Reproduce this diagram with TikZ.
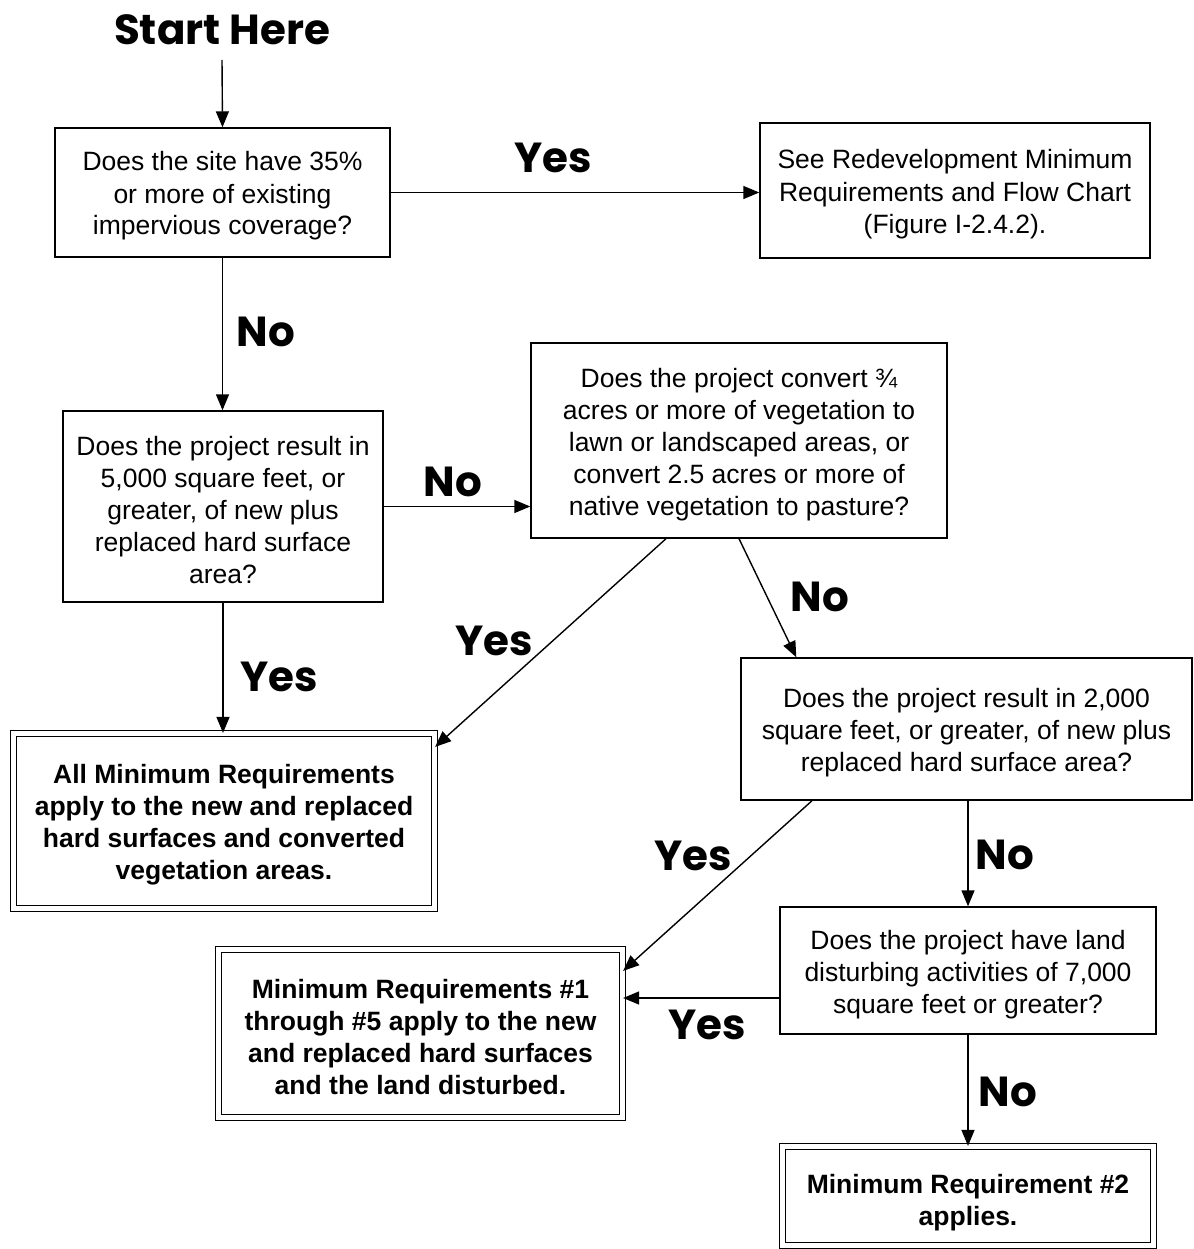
\documentclass[tikz,border=0pt]{standalone}
\usepackage{fontspec}
\setmainfont{Liberation Sans}
\newfontfamily\lblfont{Poppins}
\usetikzlibrary{arrows.meta}
\newcommand\topgap{\rule{0pt}{26.5pt}}
\tikzset{
  box/.style={draw, line width=1.4pt, align=center, inner sep=0pt,
    font=\fontsize{26.5}{32}\selectfont},
  dbox/.style={box, double, double distance=5pt, line width=1.2pt,
    font=\fontsize{26.5}{32}\selectfont\bfseries},
  arr/.style={line width=1.4pt, -{Triangle[length=16pt,width=13pt]}},
  lbl/.style={font=\fontsize{42}{44}\lblfont\bfseries, inner sep=0pt},
}
\begin{document}
\begin{tikzpicture}[x=1pt,y=-1pt]
\useasboundingbox (0,0) rectangle (1193,1249);
\node[lbl] (start) at (222,30) {Start Here};
\coordinate (startend) at (222,60);

\node[box, minimum width=335pt, minimum height=129pt] (b1) at (222.5,192.5)
  {\topgap Does the site have 35\%\\or more of existing\\impervious coverage?};
\node[box, minimum width=390pt, minimum height=135pt] (b2) at (955,190.5)
  {\topgap See Redevelopment Minimum\\Requirements and Flow Chart\\(Figure I-2.4.2).};
\node[box, minimum width=320pt, minimum height=191pt] (b3) at (223,506.5)
  {\topgap Does the project result in\\5,000 square feet, or\\greater, of new plus\\replaced hard surface\\area?};
\node[box, minimum width=416pt, minimum height=195pt] (b4) at (739,440.5)
  {\topgap Does the project convert ¾\\acres or more of vegetation to\\lawn or landscaped areas, or\\convert 2.5 acres or more of\\native vegetation to pasture?};
\node[box, minimum width=451pt, minimum height=142pt] (b5) at (966.5,729)
  {\topgap Does the project result in 2,000\\square feet, or greater, of new plus\\replaced hard surface area?};
\node[dbox, minimum width=421pt, minimum height=175pt] (b6) at (224,821)
  {\topgap All Minimum Requirements\\apply to the new and replaced\\hard surfaces and converted\\vegetation areas.};
\node[box, minimum width=376pt, minimum height=127pt] (b7) at (968,970.5)
  {\topgap Does the project have land\\disturbing activities of 7,000\\square feet or greater?};
\node[dbox, minimum width=404pt, minimum height=168pt] (b8) at (420.5,1033.5)
  {\topgap Minimum Requirements \#1\\through \#5 apply to the new\\and replaced hard surfaces\\and the land disturbed.};
\node[dbox, minimum width=371pt, minimum height=99pt] (b9) at (968,1196)
  {\rule{0pt}{32.5pt}Minimum Requirement \#2\\applies.};

\draw[arr] (startend) -- (b1.north);
\draw[arr] (b1.east) -- (b1.east -| b2.west);
\draw[arr] (b1.south) -- (b1.south |- b3.north);
\draw[arr] (b3.east) -- (b3.east -| b4.west);
\draw[arr] (b3.south) -- (b3.south |- b6.north);
\draw[arr] ([xshift=-73pt]b4.south) -- ([yshift=-14pt]b6.north east);
\draw[arr] (b4.south) -- ([xshift=56pt]b5.north west);
\draw[arr] ([xshift=-154.5pt]b5.south) -- ([yshift=-22pt]b8.north east);
\draw[arr] (b5.south -| b7.north) -- (b7.north);
\draw[arr] ([yshift=-27.5pt]b7.west) -- ([yshift=-27.5pt]b7.west -| b8.east);
\draw[arr] (b7.south) -- (b9.north);

\node[lbl] (y1) at (553,158) {Yes};
\node[lbl] (n1) at (266,332) {No};
\node[lbl] (n2) at (453,482) {No};
\node[lbl] (y2) at (494,641) {Yes};
\node[lbl] (n3) at (820,597) {No};
\node[lbl] (y3) at (279,677) {Yes};
\node[lbl] (y4) at (693,856) {Yes};
\node[lbl] (n4) at (1005,855) {No};
\node[lbl] (y5) at (707,1025) {Yes};
\node[lbl] (n5) at (1008,1092) {No};
\end{tikzpicture}
\end{document}
